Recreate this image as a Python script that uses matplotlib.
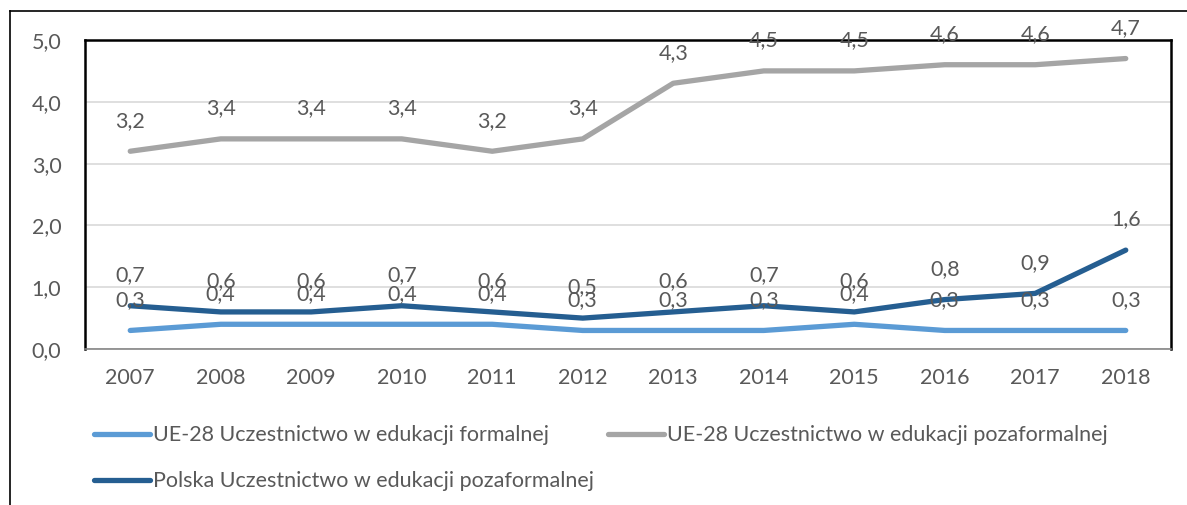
import matplotlib
matplotlib.use("Agg")
import matplotlib.pyplot as plt
from matplotlib.lines import Line2D

years = ["2007", "2008", "2009", "2010", "2011", "2012", "2013", "2014", "2015", "2016", "2017", "2018"]
ue_formal = [0.3, 0.4, 0.4, 0.4, 0.4, 0.3, 0.3, 0.3, 0.4, 0.3, 0.3, 0.3]
ue_nonformal = [3.2, 3.4, 3.4, 3.4, 3.2, 3.4, 4.3, 4.5, 4.5, 4.6, 4.6, 4.7]
pl_nonformal = [0.7, 0.6, 0.6, 0.7, 0.6, 0.5, 0.6, 0.7, 0.6, 0.8, 0.9, 1.6]
series_names = ["UE-28 Uczestnictwo w edukacji formalnej",
                "UE-28 Uczestnictwo w edukacji pozaformalnej",
                "Polska Uczestnictwo w edukacji pozaformalnej"]
yticks = [0, 1, 2, 3, 4, 5]

c_light = "#5B9BD5"
c_gray = "#A5A5A5"
c_dark = "#255E91"
txt = "#595959"
FONT = ["Lato", "DejaVu Sans"]
plt.rcParams["font.family"] = FONT
FS = 15.5

W, H = 1187, 505
fig = plt.figure(figsize=(W / 100, H / 100), dpi=100)

# outer frame (left and top only visible)
fig.add_artist(Line2D([10 / W, 10 / W], [0, 1 - 11 / H], color="black", lw=1.2, transform=fig.transFigure))
fig.add_artist(Line2D([10 / W, 1], [1 - 11 / H, 1 - 11 / H], color="black", lw=1.2, transform=fig.transFigure))

ax = fig.add_axes([85 / W, 1 - 349 / H, (1171 - 85) / W, (349 - 40) / H])
x = list(range(len(years)))
lw = 3.8
l1, = ax.plot(x, ue_formal, color=c_light, lw=lw, solid_capstyle="round", solid_joinstyle="round", zorder=3)
l2, = ax.plot(x, ue_nonformal, color=c_gray, lw=lw, solid_capstyle="round", solid_joinstyle="round", zorder=3)
l3, = ax.plot(x, pl_nonformal, color=c_dark, lw=lw, solid_capstyle="round", solid_joinstyle="round", zorder=3)

for vals in (ue_formal, ue_nonformal, pl_nonformal):
    for xi, v in zip(x, vals):
        ax.annotate(f"{v:.1f}".replace(".", ","), (xi, v), xytext=(0, 22), textcoords="offset points",
                    ha="center", va="center", fontsize=FS, color=txt, clip_on=False, zorder=4)

ax.set_xlim(-0.5, len(years) - 0.5)
ax.set_ylim(0, 5)
ax.set_yticks(yticks)
ax.set_yticklabels([f"{t:.1f}".replace(".", ",") for t in yticks])
ax.set_xticks(x)
ax.set_xticklabels(years)
ax.tick_params(axis="both", length=0, labelsize=FS, labelcolor=txt)
ax.tick_params(axis="y", pad=17)
ax.tick_params(axis="x", pad=14)
ax.grid(axis="y", color="#D9D9D9", lw=1.2)
ax.set_axisbelow(True)
for s in ("left", "top", "right"):
    ax.spines[s].set_color("black")
    ax.spines[s].set_linewidth(1.8)
ax.spines["bottom"].set_color("#868686")
ax.spines["bottom"].set_linewidth(1.2)

leg = fig.legend([l1, l3, l2], [series_names[0], series_names[2], series_names[1]],
                 ncol=2, loc="upper left", bbox_to_anchor=(75 / W, 1 - 406 / H),
                 frameon=False, fontsize=FS, handlelength=2.6, handletextpad=0.14,
                 columnspacing=0.65, labelspacing=1.2, labelcolor=txt)

fig.savefig("out.png", dpi=100)
